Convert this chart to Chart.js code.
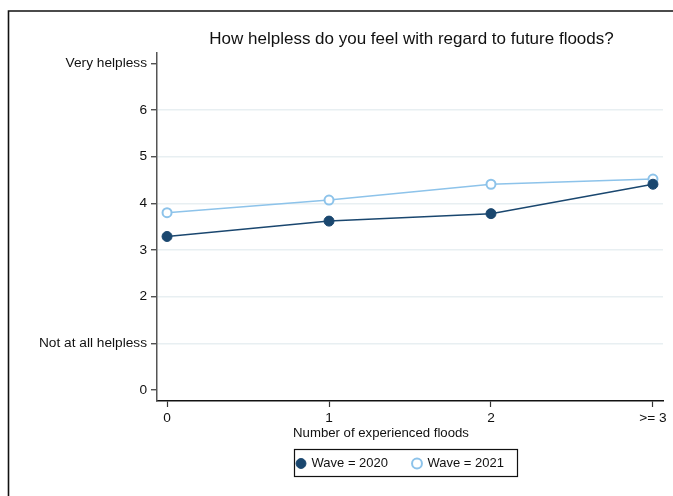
<!DOCTYPE html>
<html>
<head>
<meta charset="utf-8">
<script src="https://cdn.jsdelivr.net/npm/chart.js@4/dist/chart.umd.min.js"></script>
<style>
  html, body { margin: 0; padding: 0; background: #fff; }
  #wrap { width: 673px; height: 496px; }
</style>
</head>
<body>
<div id="wrap"><canvas id="chart" width="673" height="496"></canvas></div>
<script>
const floodCounts = [0, 1, 2, 3];
const xLabels = ["0", "1", "2", ">= 3"];
const yLabels = ["0", "Not at all helpless", "2", "3", "4", "5", "6", "Very helpless"];
const wave2020 = [3.29, 3.62, 3.78, 4.41];
const wave2021 = [3.80, 4.07, 4.41, 4.52];

const navy = "#1a476f";
const lightBlue = "#8dc3ea";
const font = "'Liberation Sans', Arial, sans-serif";

// stata style frame, x axis title, box round the legend; title and legend are
// moved sideways so they sit where stata puts them
const decorations = {
  id: "decorations",
  afterUpdate(chart) {
    const legend = chart.legend;
    const legendShift = 54;
    legend.left += legendShift;
    legend.right += legendShift;
    legend.legendHitBoxes.forEach((b) => { b.left += legendShift; });
    const title = chart.titleBlock;
    const titleShift = 65;
    title.left += titleShift;
    title.right += titleShift;
  },
  beforeDraw(chart) {
    const ctx = chart.ctx;
    ctx.save();
    ctx.strokeStyle = "#111";
    ctx.lineWidth = 1.6;
    ctx.beginPath();
    ctx.moveTo(8.5, 496);
    ctx.lineTo(8.5, 11);
    ctx.lineTo(673, 11);
    ctx.stroke();
    ctx.restore();
  },
  afterDraw(chart) {
    const ctx = chart.ctx;
    ctx.save();
    ctx.fillStyle = "#111";
    ctx.font = "13.2px " + font;
    ctx.textAlign = "center";
    ctx.textBaseline = "middle";
    ctx.fillText("Number of experienced floods", 381, 433);

    const boxes = chart.legend.legendHitBoxes;
    if (boxes && boxes.length) {
      const first = boxes[0];
      const last = boxes[boxes.length - 1];
      const x0 = first.left - 3;
      const x1 = last.left + last.width + 13;
      const y0 = first.top - 8;
      const y1 = first.top + first.height + 6;
      ctx.strokeStyle = "#111";
      ctx.lineWidth = 1.2;
      ctx.strokeRect(Math.round(x0) + 0.5, Math.round(y0) + 0.5, Math.round(x1 - x0), Math.round(y1 - y0));
    }
    ctx.restore();
  }
};

const ctx = document.getElementById("chart").getContext("2d");
new Chart(ctx, {
  type: "line",
  data: {
    datasets: [
      {
        label: "Wave = 2020",
        data: floodCounts.map((x, i) => ({ x: x, y: wave2020[i] })),
        borderColor: navy,
        backgroundColor: navy,
        borderWidth: 1.5,
        pointRadius: 5,
        pointBorderWidth: 1,
        pointBackgroundColor: navy,
        pointBorderColor: navy,
        tension: 0
      },
      {
        label: "Wave = 2021",
        data: floodCounts.map((x, i) => ({ x: x, y: wave2021[i] })),
        borderColor: lightBlue,
        backgroundColor: "#ffffff",
        borderWidth: 1.5,
        pointRadius: 4.5,
        pointBorderWidth: 2,
        pointBackgroundColor: "#ffffff",
        pointBorderColor: lightBlue,
        tension: 0
      }
    ]
  },
  options: {
    responsive: false,
    animation: false,
    layout: { padding: { left: 30, right: 10, top: 10, bottom: 16 } },
    plugins: {
      title: {
        display: true,
        text: "How helpless do you feel with regard to future floods?",
        color: "#111",
        font: { family: font, size: 17, weight: "normal" },
        padding: { top: 19, bottom: 3 }
      },
      legend: {
        position: "bottom",
        labels: {
          usePointStyle: true,
          pointStyle: "circle",
          boxWidth: 8,
          boxHeight: 7,
          padding: 25,
          color: "#111",
          font: { family: font, size: 13 }
        }
      },
      tooltip: { enabled: false }
    },
    scales: {
      x: {
        type: "linear",
        min: -0.062,
        max: 3.062,
        afterFit: (scale) => { scale.height = 31; },
        border: { color: "#111", width: 1.5 },
        grid: {
          drawOnChartArea: false,
          tickColor: "#333",
          tickLength: 6,
          tickWidth: 1.2
        },
        ticks: {
          stepSize: 1,
          includeBounds: false,
          padding: 3,
          color: "#111",
          font: { family: font, size: 13.7 },
          maxRotation: 0,
          callback: (v) => xLabels[v]
        }
      },
      y: {
        min: -0.236,
        max: 7.236,
        afterFit: (scale) => { scale.width = 127; },
        border: { color: "#555", width: 1.5 },
        grid: {
          color: (c) => (c.tick && (c.tick.value === 0 || c.tick.value === 7)) ? "rgba(0,0,0,0)" : "#e8eff2",
          lineWidth: 1.5,
          tickColor: "#333",
          tickLength: 6,
          tickWidth: 1.2
        },
        ticks: {
          stepSize: 1,
          includeBounds: false,
          padding: 4,
          color: "#111",
          font: { family: font, size: 13.7 },
          callback: (v) => yLabels[v]
        }
      }
    }
  },
  plugins: [decorations]
});
</script>
</body>
</html>
